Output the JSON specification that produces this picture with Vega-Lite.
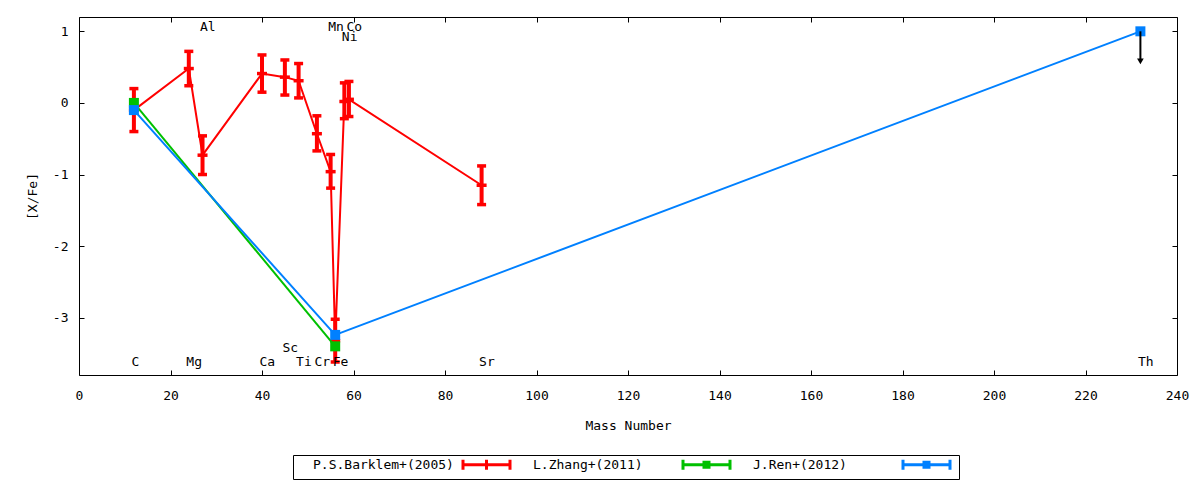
{
  "$schema": "https://vega.github.io/schema/vega-lite/v6.json",
  "width": 1098,
  "height": 358,
  "autosize": "none",
  "padding": {"left": 79, "top": 17, "right": 23, "bottom": 105},
  "background": "white",
  "config": {
    "view": {"stroke": "black", "strokeWidth": 1},
    "font": "DejaVu Sans Mono",
    "axis": {
      "labelFont": "DejaVu Sans Mono", "labelFontSize": 13, "labelColor": "black",
      "titleFont": "DejaVu Sans Mono", "titleFontSize": 13, "titleFontWeight": "normal", "titleColor": "black",
      "grid": false, "domain": false, "tickColor": "black", "tickSize": -5, "tickWidth": 1, "labelFlush": false
    },
    "legend": {
      "orient": "none", "legendX": 214, "legendY": 438, "direction": "horizontal",
      "strokeColor": "black", "padding": 3, "columnPadding": 0,
      "symbolSize": 4, "symbolStrokeWidth": 3, "symbolOffset": 0, "symbolOpacity": 1,
      "labelOffset": 4, "labelFont": "DejaVu Sans Mono", "labelFontSize": 13,
      "labelColor": "black", "labelLimit": 400
    }
  },
  "datasets": {
    "pts": [
      {"src": "P.S.Barklem+(2005)", "el": "C", "mass": 12, "val": -0.10, "lo": -0.40, "hi": 0.20},
      {"src": "P.S.Barklem+(2005)", "el": "Mg", "mass": 24, "val": 0.48, "lo": 0.24, "hi": 0.72},
      {"src": "P.S.Barklem+(2005)", "el": "Al", "mass": 27, "val": -0.73, "lo": -1.00, "hi": -0.46},
      {"src": "P.S.Barklem+(2005)", "el": "Ca", "mass": 40, "val": 0.41, "lo": 0.15, "hi": 0.67},
      {"src": "P.S.Barklem+(2005)", "el": "Sc", "mass": 45, "val": 0.36, "lo": 0.11, "hi": 0.60},
      {"src": "P.S.Barklem+(2005)", "el": "Ti", "mass": 48, "val": 0.31, "lo": 0.07, "hi": 0.55},
      {"src": "P.S.Barklem+(2005)", "el": "Cr", "mass": 52, "val": -0.43, "lo": -0.67, "hi": -0.18},
      {"src": "P.S.Barklem+(2005)", "el": "Mn", "mass": 55, "val": -0.96, "lo": -1.19, "hi": -0.72},
      {"src": "P.S.Barklem+(2005)", "el": "Fe", "mass": 56, "val": -3.32, "lo": -3.62, "hi": -3.02},
      {"src": "P.S.Barklem+(2005)", "el": "Ni", "mass": 58, "val": 0.02, "lo": -0.22, "hi": 0.28},
      {"src": "P.S.Barklem+(2005)", "el": "Co", "mass": 59, "val": 0.05, "lo": -0.19, "hi": 0.30},
      {"src": "P.S.Barklem+(2005)", "el": "Sr", "mass": 88, "val": -1.15, "lo": -1.42, "hi": -0.88},
      {"src": "L.Zhang+(2011)", "el": "C", "mass": 12, "val": 0.00},
      {"src": "L.Zhang+(2011)", "el": "Fe", "mass": 56, "val": -3.40},
      {"src": "J.Ren+(2012)", "el": "C", "mass": 12, "val": -0.10},
      {"src": "J.Ren+(2012)", "el": "Fe", "mass": 56, "val": -3.24},
      {"src": "J.Ren+(2012)", "el": "Th", "mass": 232, "val": 1.00, "ul": 0.58}
    ],
    "labels": [
      {"el": "C", "mass": 12, "ly": -3.62},
      {"el": "Mg", "mass": 24, "ly": -3.62},
      {"el": "Al", "mass": 27, "ly": 1.06},
      {"el": "Ca", "mass": 40, "ly": -3.62},
      {"el": "Sc", "mass": 45, "ly": -3.42},
      {"el": "Ti", "mass": 48, "ly": -3.62},
      {"el": "Cr", "mass": 52, "ly": -3.62},
      {"el": "Mn", "mass": 55, "ly": 1.06},
      {"el": "Fe", "mass": 56, "ly": -3.62},
      {"el": "Ni", "mass": 58, "ly": 0.92},
      {"el": "Co", "mass": 59, "ly": 1.06},
      {"el": "Sr", "mass": 88, "ly": -3.62},
      {"el": "Th", "mass": 232, "ly": -3.62}
    ]
  },
  "layer": [
    {
      "data": {"name": "pts"},
      "transform": [{"filter": "datum.src === 'P.S.Barklem+(2005)'"}],
      "mark": {"type": "line", "color": "#ff0000", "strokeWidth": 2, "opacity": 1},
      "encoding": {
        "x": {"field": "mass", "type": "quantitative",
              "scale": {"domain": [0, 240], "nice": false, "zero": false},
              "axis": {"orient": "bottom", "values": [0, 20, 40, 60, 80, 100, 120, 140, 160, 180, 200, 220, 240], "title": "Mass Number", "labelPadding": 19, "titlePadding": 17}},
        "y": {"field": "val", "type": "quantitative",
              "scale": {"domain": [-3.8, 1.2], "nice": false, "zero": false},
              "axis": {"orient": "left", "values": [-3, -2, -1, 0, 1], "title": "[X/Fe]", "labelPadding": 16, "titlePadding": 13,
                       "labelExpr": "datum.value < 0 ? '-' + abs(datum.value) : '' + datum.value"}}
      }
    },
    {
      "data": {"name": "pts"},
      "transform": [{"filter": "datum.src === 'P.S.Barklem+(2005)'"}],
      "mark": {"type": "rule", "color": "#ff0000", "strokeWidth": 4, "opacity": 1},
      "encoding": {
        "x": {"field": "mass", "type": "quantitative", "axis": null},
        "y": {"field": "lo", "type": "quantitative", "axis": null},
        "y2": {"field": "hi"}
      }
    },
    {
      "data": {"name": "pts"},
      "transform": [{"filter": "datum.src === 'P.S.Barklem+(2005)'"}],
      "mark": {"type": "tick", "orient": "horizontal", "color": "#ff0000", "size": 9, "thickness": 3.5, "opacity": 1},
      "encoding": {
        "x": {"field": "mass", "type": "quantitative", "axis": null},
        "y": {"field": "lo", "type": "quantitative", "axis": null}
      }
    },
    {
      "data": {"name": "pts"},
      "transform": [{"filter": "datum.src === 'P.S.Barklem+(2005)'"}],
      "mark": {"type": "tick", "orient": "horizontal", "color": "#ff0000", "size": 9, "thickness": 3.5, "opacity": 1},
      "encoding": {
        "x": {"field": "mass", "type": "quantitative", "axis": null},
        "y": {"field": "hi", "type": "quantitative", "axis": null}
      }
    },
    {
      "data": {"name": "pts"},
      "transform": [{"filter": "datum.src === 'P.S.Barklem+(2005)'"}],
      "mark": {"type": "tick", "orient": "horizontal", "color": "#ff0000", "size": 10, "thickness": 3.5, "opacity": 1},
      "encoding": {
        "x": {"field": "mass", "type": "quantitative", "axis": null},
        "y": {"field": "val", "type": "quantitative", "axis": null}
      }
    },
    {
      "data": {"name": "pts"},
      "transform": [{"filter": "datum.src === 'L.Zhang+(2011)'"}],
      "mark": {"type": "line", "color": "#00c000", "strokeWidth": 2, "opacity": 1},
      "encoding": {
        "x": {"field": "mass", "type": "quantitative", "axis": null},
        "y": {"field": "val", "type": "quantitative", "axis": null}
      }
    },
    {
      "data": {"name": "pts"},
      "transform": [{"filter": "datum.src === 'L.Zhang+(2011)'"}],
      "mark": {"type": "point", "shape": "square", "filled": true, "color": "#00c000", "size": 100, "opacity": 1},
      "encoding": {
        "x": {"field": "mass", "type": "quantitative", "axis": null},
        "y": {"field": "val", "type": "quantitative", "axis": null}
      }
    },
    {
      "data": {"name": "pts"},
      "transform": [{"filter": "datum.src === 'J.Ren+(2012)'"}],
      "mark": {"type": "line", "color": "#0080ff", "strokeWidth": 2, "opacity": 1},
      "encoding": {
        "x": {"field": "mass", "type": "quantitative", "axis": null},
        "y": {"field": "val", "type": "quantitative", "axis": null}
      }
    },
    {
      "data": {"name": "pts"},
      "transform": [{"filter": "datum.src === 'J.Ren+(2012)'"}],
      "mark": {"type": "point", "shape": "square", "filled": true, "color": "#0080ff", "size": 100, "opacity": 1},
      "encoding": {
        "x": {"field": "mass", "type": "quantitative", "axis": null},
        "y": {"field": "val", "type": "quantitative", "axis": null}
      }
    },
    {
      "data": {"name": "pts"},
      "transform": [{"filter": "isValid(datum.ul)"}],
      "mark": {"type": "rule", "color": "black", "strokeWidth": 2, "opacity": 1},
      "encoding": {
        "x": {"field": "mass", "type": "quantitative", "axis": null},
        "y": {"field": "val", "type": "quantitative", "axis": null},
        "y2": {"field": "ul"}
      }
    },
    {
      "data": {"name": "pts"},
      "transform": [{"filter": "isValid(datum.ul)"}],
      "mark": {"type": "point", "shape": "triangle-down", "filled": true, "color": "black", "size": 45, "opacity": 1},
      "encoding": {
        "x": {"field": "mass", "type": "quantitative", "axis": null},
        "y": {"field": "ul", "type": "quantitative", "axis": null}
      }
    },
    {
      "data": {"name": "labels"},
      "mark": {"type": "text", "align": "left", "baseline": "middle", "dx": -2.5, "font": "DejaVu Sans Mono", "fontSize": 13, "color": "black"},
      "encoding": {
        "x": {"field": "mass", "type": "quantitative",
              "axis": {"orient": "top", "values": [0, 20, 40, 60, 80, 100, 120, 140, 160, 180, 200, 220, 240], "labels": false, "title": null}},
        "y": {"field": "ly", "type": "quantitative",
              "axis": {"orient": "right", "values": [-3, -2, -1, 0, 1], "labels": false, "title": null}},
        "text": {"field": "el"}
      }
    },
    {
      "data": {"name": "pts"},
      "mark": {"type": "point", "filled": true, "opacity": 0},
      "encoding": {
        "x": {"field": "mass", "type": "quantitative", "axis": null},
        "y": {"field": "val", "type": "quantitative", "axis": null},
        "color": {"field": "src", "type": "nominal",
                  "scale": {"domain": ["P.S.Barklem+(2005)", "L.Zhang+(2011)", "J.Ren+(2012)"], "range": ["#ff0000", "#00c000", "#0080ff"]},
                  "legend": {"title": null,
                             "labelExpr": "pad(datum.label, 18, '\u00a0', 'right')",
                             "encode": {"symbols": {"update": {"stroke": {"scale": "color", "field": "value"}, "strokeWidth": {"value": 3}, "opacity": {"value": 1}}}}}},
        "shape": {"field": "src", "type": "nominal",
                  "scale": {"domain": ["P.S.Barklem+(2005)", "L.Zhang+(2011)", "J.Ren+(2012)"],
                            "range": ["M160.5,0H207.5M160.5,-5V5M207.5,-5V5M184,-5V5",
                                      "M160.5,0H207.5M160.5,-5V5M207.5,-5V5M181.5,-2.5H186.5V2.5H181.5Z",
                                      "M160.5,0H207.5M160.5,-5V5M207.5,-5V5M181.5,-2.5H186.5V2.5H181.5Z"]},
                  "legend": {"title": null, "labelExpr": "pad(datum.label, 18, '\u00a0', 'right')"}}
      }
    }
  ],
  "resolve": {"axis": {"x": "independent", "y": "independent"}}
}
